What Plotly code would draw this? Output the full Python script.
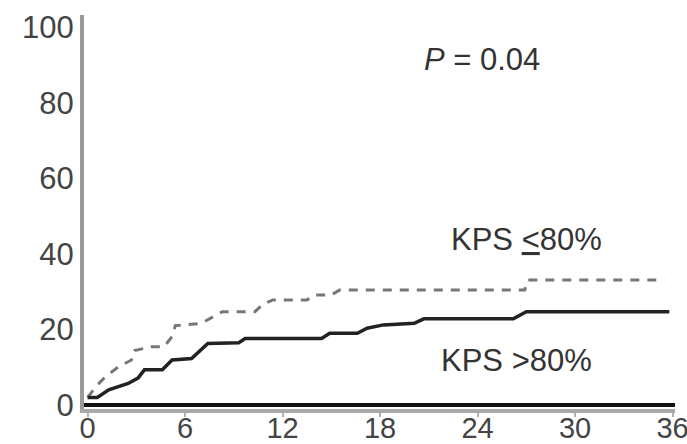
import plotly.graph_objects as go

# KPS > 80% (solid)
solid_x = [0, 0.6, 1.3, 1.9, 2.5, 3.1, 3.5, 4.6, 5.2, 6.4, 7.4, 9.3, 9.7, 14.4, 14.9, 16.6, 17.2, 18.2, 20.1, 20.7, 26.2, 27.0, 35.8]
solid_y = [2, 2, 4, 4.8, 5.7, 7.1, 9.3, 9.3, 11.9, 12.3, 16.3, 16.5, 17.6, 17.6, 19.0, 19.0, 20.3, 21.2, 21.6, 22.8, 22.8, 24.7, 24.7]

# KPS <= 80% (dashed)
dash_x = [0, 0.6, 1.1, 1.9, 2.7, 2.9, 3.9, 4.7, 5.2, 5.4, 7.0, 7.8, 8.3, 10.3, 10.8, 11.4, 13.5, 13.9, 15.0, 15.5, 26.9, 27.1, 35.5]
dash_y = [2, 5.3, 7.5, 10.1, 11.9, 14.4, 15.4, 15.4, 18.1, 21.0, 21.6, 23.4, 24.7, 24.7, 26.7, 27.8, 27.8, 29.1, 29.1, 30.4, 30.4, 33.1, 33.1]

x_ticks = [0, 6, 12, 18, 24, 30, 36]
y_ticks = [0, 20, 40, 60, 80, 100]

label_p = "<i>P</i> = 0.04"
label_low = "KPS <u>&lt;</u>80%"
label_high = "KPS &gt;80%"

FONT = "Liberation Sans, Arial, sans-serif"

fig = go.Figure()
fig.add_trace(go.Scatter(x=dash_x, y=dash_y, mode="lines",
                         line=dict(color="#777777", width=3, dash="9px,8px"),
                         showlegend=False))
fig.add_trace(go.Scatter(x=solid_x, y=solid_y, mode="lines",
                         line=dict(color="#222222", width=3.5),
                         showlegend=False))

fig.add_annotation(x=24.3, y=91.3, xref="x", yref="y", text=label_p, showarrow=False,
                   font=dict(family=FONT, size=31, color="#333333"))
fig.add_annotation(x=27.0, y=43.7, xref="x", yref="y", text=label_low, showarrow=False,
                   font=dict(family=FONT, size=31, color="#333333"))
fig.add_annotation(x=26.4, y=11.9, xref="x", yref="y", text=label_high, showarrow=False,
                   font=dict(family=FONT, size=31, color="#333333"))

fig.update_layout(
    width=687, height=444,
    margin=dict(l=84, r=12, t=15, b=35),
    paper_bgcolor="white", plot_bgcolor="white",
    font=dict(family=FONT, size=31, color="#444444"),
    xaxis=dict(range=[-0.22, 36.15], tickvals=x_ticks, ticktext=[str(v) for v in x_ticks],
               showgrid=False, zeroline=False, showline=True, linecolor="#a8a8a8", linewidth=4,
               ticks="outside", ticklen=4, tickwidth=2, tickcolor="#b0b0b0",
               ticklabeloverflow="allow", ticklabelstandoff=-14, automargin=False,
               tickfont=dict(family=FONT, size=29, color="#444444")),
    yaxis=dict(range=[-1.06, 103.2], tickvals=y_ticks, ticktext=[str(v) for v in y_ticks],
               showgrid=False, zeroline=True, zerolinecolor="#111111", zerolinewidth=4,
               showline=True, linecolor="#9a9a9a", linewidth=4, automargin=False,
               ticks="", tickfont=dict(family=FONT, size=31, color="#444444")),
)

fig.write_html("out.html")
